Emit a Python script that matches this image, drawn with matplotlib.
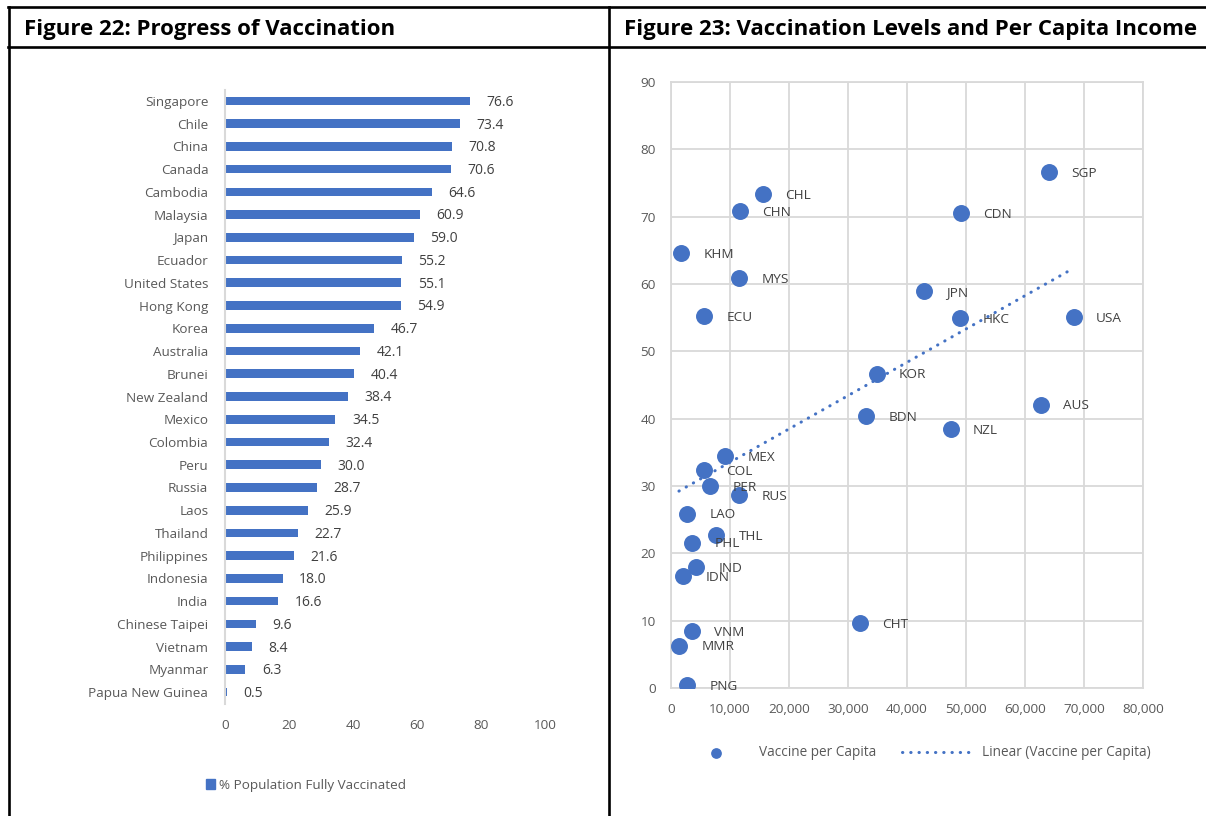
import numpy as np
import matplotlib.pyplot as plt
from matplotlib.lines import Line2D
from matplotlib.patches import Patch
from matplotlib.ticker import FuncFormatter

# Figure 22 data: % population fully vaccinated
countries = ['Singapore', 'Chile', 'China', 'Canada', 'Cambodia', 'Malaysia', 'Japan',
             'Ecuador', 'United States', 'Hong Kong', 'Korea', 'Australia', 'Brunei',
             'New Zealand', 'Mexico', 'Colombia', 'Peru', 'Russia', 'Laos', 'Thailand',
             'Philippines', 'Indonesia', 'India', 'Chinese Taipei', 'Vietnam', 'Myanmar',
             'Papua New Guinea']
vaccinated = [76.6, 73.4, 70.8, 70.6, 64.6, 60.9, 59.0, 55.2, 55.1, 54.9, 46.7, 42.1, 40.4,
              38.4, 34.5, 32.4, 30.0, 28.7, 25.9, 22.7, 21.6, 18.0, 16.6, 9.6, 8.4, 6.3, 0.5]

# Figure 23 data: per capita income vs vaccination
codes = ['SGP', 'CHL', 'CHN', 'CDN', 'KHM', 'MYS', 'JPN', 'ECU', 'HKC', 'USA', 'KOR', 'AUS',
         'BDN', 'NZL', 'MEX', 'COL', 'PER', 'RUS', 'LAO', 'THL', 'PHL', 'IND', 'IDN', 'CHT',
         'VNM', 'MMR', 'PNG']
income = [64100, 15600, 11750, 49200, 1700, 11550, 42900, 5650, 49000, 68250, 34850, 62650,
          33050, 47400, 9200, 5650, 6600, 11550, 2750, 7700, 3600, 4250, 2100, 32050,
          3600, 1350, 2750]
vacc_pc = [76.6, 73.4, 70.8, 70.6, 64.6, 60.9, 59.0, 55.2, 54.9, 55.1, 46.7, 42.1,
           40.4, 38.4, 34.5, 32.4, 30.0, 28.7, 25.9, 22.7, 21.6, 18.0, 16.6, 9.6,
           8.4, 6.3, 0.5]

blue = '#4472C4'
tick_grey = '#595959'
label_grey = '#404040'
font = 'Open Sans'

W, H = 1206, 816
fig = plt.figure(figsize=(W / 100, H / 100), dpi=100)

def fx(px):
    return px / W

def fy(py):
    return 1 - py / H

# table borders
for (x0, y0, x1, y1) in [(8, 7, 1206, 7), (8, 47, 1206, 47), (9, 7, 9, 816), (609, 7, 609, 816)]:
    fig.add_artist(Line2D([fx(x0), fx(x1)], [fy(y0), fy(y1)], color='black', lw=1.9))

fig.text(fx(24), fy(29), 'Figure 22: Progress of Vaccination', fontsize=16,
         fontweight='bold', family=font, va='center', ha='left')
fig.text(fx(624), fy(29), 'Figure 23: Vaccination Levels and Per Capita Income', fontsize=16,
         fontweight='bold', family=font, va='center', ha='left')

# ---- Figure 22: horizontal bars
ax1 = fig.add_axes([fx(225), fy(703.5), fx(545) - fx(225), fy(89.5) - fy(703.5)])
ypos = np.arange(len(countries))
bars = ax1.barh(ypos, vaccinated, height=0.38, color=blue, label='% Population Fully Vaccinated')
ax1.set_ylim(len(countries) - 0.5, -0.5)
ax1.set_xlim(0, 100)
ax1.set_yticks(ypos)
ax1.set_yticklabels(countries, family=font, fontsize=9.7, color=tick_grey)
ax1.set_xticks(np.arange(0, 101, 20))
ax1.set_xticklabels([str(v) for v in range(0, 101, 20)], family=font, fontsize=9.7, color=tick_grey)
ax1.tick_params(length=0, pad=12)
ax1.tick_params(axis='x', pad=11)
for s in ['top', 'right', 'bottom']:
    ax1.spines[s].set_visible(False)
ax1.spines['left'].set_color('#D9D9D9')
ax1.spines['left'].set_linewidth(1.5)
for yv, v in zip(ypos, vaccinated):
    ax1.annotate(f'{v:.1f}', xy=(v, yv), xytext=(12, -1), textcoords='offset points',
                 va='center', ha='left', family=font, fontsize=10, color=label_grey)
ax1.legend(handles=[Patch(color=blue, label='% Population Fully Vaccinated')],
           loc='center', bbox_to_anchor=(fx(306), fy(785)), bbox_transform=fig.transFigure,
           frameon=False, handlelength=0.7, handleheight=0.7, handletextpad=0.3,
           prop={'family': font, 'size': 9.7}, labelcolor=tick_grey)

# ---- Figure 23: scatter
ax2 = fig.add_axes([fx(671), fy(688), fx(1143) - fx(671), fy(82) - fy(688)])
ax2.scatter(income, vacc_pc, s=125, color=blue, zorder=3, label='Vaccine per Capita')
fit = np.polyfit(income, vacc_pc, 1)
xs = np.array([min(income), max(income)])
ax2.plot(xs, np.polyval(fit, xs), color=blue, lw=2.2, linestyle=(0, (0.1, 2.6)),
         dash_capstyle='round', zorder=2, label='Linear (Vaccine per Capita)')
for c, xv, yv in zip(codes, income, vacc_pc):
    ax2.annotate(c, xy=(xv, yv), xytext=(16, -1), textcoords='offset points',
                 va='center', ha='left', family=font, fontsize=9.7, color=label_grey, zorder=4)
ax2.set_xlim(0, 80000)
ax2.set_ylim(0, 90)
ax2.set_xticks(np.arange(0, 80001, 10000))
ax2.set_yticks(np.arange(0, 91, 10))
ax2.xaxis.set_major_formatter(FuncFormatter(lambda v, p: f'{int(v):,}'))
for lab in ax2.get_xticklabels() + ax2.get_yticklabels():
    lab.set_family(font)
    lab.set_fontsize(9.7)
    lab.set_color(tick_grey)
ax2.tick_params(length=0, pad=11)
ax2.grid(True, color='#D9D9D9', lw=1.3)
ax2.set_axisbelow(True)
for s in ax2.spines.values():
    s.set_color('#D9D9D9')
    s.set_linewidth(1.3)
ax2.legend(loc='center', bbox_to_anchor=(fx(915), fy(753)), bbox_transform=fig.transFigure,
           ncol=2, frameon=False, handlelength=5.4, handletextpad=0.5, columnspacing=1.9,
           markerscale=0.6, prop={'family': font, 'size': 9.8}, labelcolor=tick_grey)

fig.savefig('out.png', dpi=100)
